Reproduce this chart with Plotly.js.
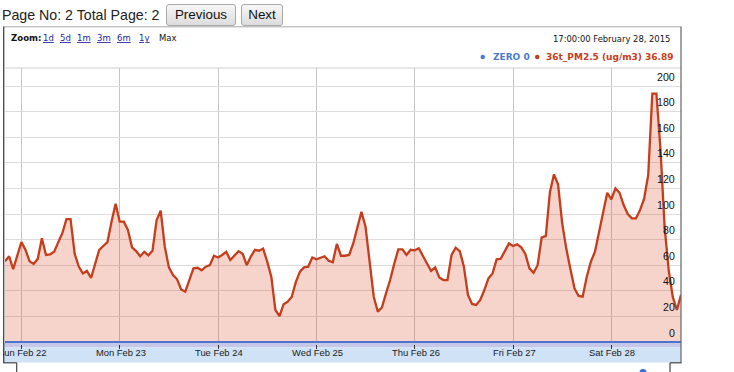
<!DOCTYPE html>
<html><head><meta charset="utf-8">
<script src="https://cdn.plot.ly/plotly-3.0.1.min.js"></script>
<style>
html,body{margin:0;padding:0;width:734px;height:372px;overflow:hidden;background:#fff;font-family:"Liberation Sans",Arial,sans-serif;}
#hdr{position:absolute;left:2px;top:5px;font-size:14.2px;color:#222;line-height:20px;z-index:5;white-space:nowrap}
.btn{position:absolute;top:4px;height:22px;box-sizing:border-box;border:1px solid #a9a9a9;border-radius:3px;background:linear-gradient(#f7f7f7,#dcdcdc);font-family:"Liberation Sans",Arial,sans-serif;font-size:13.4px;color:#111;line-height:20px;text-align:center;z-index:5}
#chart{position:absolute;left:3px;top:0;width:731px;height:372px}
</style></head><body>
<div id="hdr">Page No: 2 Total Page: 2</div>
<div class="btn" style="left:166px;width:70px">Previous</div>
<div class="btn" style="left:241px;width:42px">Next</div>
<div id="chart"></div>
<script>
// ---- data ----
const seriesName = '36t_PM2.5 (ug/m3)';
const zeroName = 'ZERO';
const firstHourUTC = Date.UTC(2015, 1, 21, 20); // Feb 21 2015 20:00, hourly samples
const pm25 = [63,67,57,67,
  78,72,63,61,65,81,68,68.5,70.5,78,
  85,96,96,69,59,53.5,55.5,50,61.5,72,
  75,78,94,108,94,94,87.5,74,71,67,
  70.5,67.7,71.3,95,102.6,74.5,58.3,52.3,49,41,
  39.3,48.4,57.5,58,56,58.8,60,67.4,66,68,
  70.5,64,67.4,71,69,60,66.7,72,71.3,73,
  62.8,51,25,20.3,29.4,31.5,35.4,47,55,58.3,
  58.8,66,64.6,66,67,63.5,62.3,76.6,67.4,67.4,
  68,77,90,101.8,90,64,35.4,23.7,27,38,
  48.4,61,72.4,72.4,68,72,71.6,73.2,67.4,62,
  55.5,58.3,50.5,48.4,48.4,68,73.7,71,59,36.7,
  29.7,29,32.8,40.6,49.7,53.6,64.6,65,71.3,77,
  75,76.3,74,68.8,57.5,54,60,81.8,82.8,117,
  131,123,92.7,73,57,42,36,35.4,51,62.8,
  70.5,86,103,116.6,111.5,120,116.6,107,100,96.6,
  96.6,103,112,130.5,194,194,150,90,56,35,
  25,36.89];
const zeroValues = [0, 0];
const dayTicks = ['2015-02-22','2015-02-23','2015-02-24','2015-02-25','2015-02-26','2015-02-27','2015-02-28'];
const dayLabels = ['Sun Feb 22','Mon Feb 23','Tue Feb 24','Wed Feb 25','Thu Feb 26','Fri Feb 27','Sat Feb 28'];
const yTicks = [0,20,40,60,80,100,120,140,160,180,200];
const zoomLinks = ['1d','5d','1m','3m','6m','1y'];
const lastTimeLabel = '17:00:00 February 28, 2015';
const lastZero = 0;
const lastPM = 36.89;

function fmt(ms){ return new Date(ms).toISOString().slice(0,19).replace('T',' '); }
const times = pm25.map((_, i) => fmt(firstHourUTC + i * 3600000));
const zeroTimes = [times[0], times[times.length - 1]];

// ---- geometry (page px -> paper) ----
const FW = 731, FH = 372, ML = 2, MR = 53, MT = 68, MB = 28, OFFX = 3;
const PW = FW - ML - MR, PH = FH - MT - MB;
const PX = px => (px - OFFX - ML) / PW;
const PY = py => (FH - MB - py) / PH;

const RED = '#c63d1c', BLUE = '#4a74d0', LEGBLUE = '#4a7ccb';

const traces = [
  {x: times, y: pm25, type: 'scatter', mode: 'lines', name: seriesName,
   line: {color: RED, width: 2.3}, fill: 'tozeroy', fillcolor: 'rgba(220,57,18,0.22)', hoverinfo: 'skip'},
  {x: zeroTimes, y: zeroValues, type: 'scatter', mode: 'lines', name: zeroName,
   line: {color: BLUE, width: 2}, hoverinfo: 'skip'}
];

const shapes = [
  {type:'rect', xref:'paper', yref:'paper', x0:PX(4), x1:PX(681), y0:PY(347.2), y1:PY(343), fillcolor:'#c7c7e7', line:{width:0}, layer:'below'},
  {type:'rect', xref:'paper', yref:'paper', x0:PX(4), x1:PX(681), y0:PY(362.6), y1:PY(347.2), fillcolor:'#d0e2f6', line:{width:0}, layer:'below'},
  {type:'line', xref:'paper', yref:'paper', x0:PX(5), x1:PX(681), y0:PY(68), y1:PY(68), line:{color:'#cfcfcf', width:1}},
  {type:'line', xref:'paper', yref:'paper', x0:PX(3), x1:PX(681.5), y0:PY(26.8), y1:PY(26.8), line:{color:'#a8a8a8', width:1}},
  {type:'line', xref:'paper', yref:'paper', x0:PX(3.7), x1:PX(3.7), y0:PY(26.8), y1:PY(362.8), line:{color:'#444', width:1.3}},
  {type:'line', xref:'paper', yref:'paper', x0:PX(681), x1:PX(681), y0:PY(26.8), y1:PY(362.8), line:{color:'#666', width:1.2}},
  {type:'line', xref:'paper', yref:'paper', x0:PX(3), x1:PX(16.7), y0:PY(362.8), y1:PY(362.8), line:{color:'#444', width:1.2}},
  {type:'line', xref:'paper', yref:'paper', x0:PX(16.7), x1:PX(16.7), y0:PY(362.8), y1:PY(373), line:{color:'#444', width:1.2}},
  {type:'line', xref:'paper', yref:'paper', x0:PX(670), x1:PX(681.5), y0:PY(362.8), y1:PY(362.8), line:{color:'#444', width:1.2}},
  {type:'line', xref:'paper', yref:'paper', x0:PX(670), x1:PX(670), y0:PY(362.8), y1:PY(373), line:{color:'#444', width:1.2}},
  {type:'circle', xref:'paper', yref:'paper', x0:PX(639.5), x1:PX(646.5), y0:PY(369), y1:PY(376), fillcolor:'#3d6cd2', line:{width:0}},
  {type:'circle', xref:'paper', yref:'paper', x0:PX(480.5), x1:PX(485), y0:PY(54.8), y1:PY(59.3), fillcolor:LEGBLUE, line:{width:0}},
  {type:'circle', xref:'paper', yref:'paper', x0:PX(535), x1:PX(539.5), y0:PY(54.8), y1:PY(59.3), fillcolor:RED, line:{width:0}}
];

const annotations = [];
dayTicks.forEach((d, i) => annotations.push({x: d, xref:'x', y: PY(352.6), yref:'paper', text: dayLabels[i],
  showarrow:false, xanchor:'center', yanchor:'middle', xshift:1,
  font:{family:'Liberation Sans, Arial, sans-serif', size:9.4, color:'#1a1a1a'}}));
yTicks.forEach(v => annotations.push({x: 1, xref:'paper', y: v, yref:'y', text: String(v),
  showarrow:false, xanchor:'right', yanchor:'middle', xshift:-4, yshift:9.5,
  font:{family:'Liberation Sans, Arial, sans-serif', size:10.6, color:'#111'}}));
const hdrFont = (c, s) => ({family:'DejaVu Sans, Verdana, sans-serif', size:s, color:c});
annotations.push({x:PX(9), xref:'paper', y:PY(37.5), yref:'paper', text:'<b>Zoom:</b>', showarrow:false,
  xanchor:'left', yanchor:'middle', font:hdrFont('#111', 8.6)});
const linkCenters = [48, 65.3, 84, 104, 124, 143.6];
zoomLinks.forEach((z, i) => annotations.push({x:PX(linkCenters[i]), xref:'paper', y:PY(37.5), yref:'paper',
  text:'<u>' + z + '</u>', showarrow:false, xanchor:'center', yanchor:'middle', font:hdrFont('#1f1fa3', 8.5)}));
annotations.push({x:PX(167.5), xref:'paper', y:PY(37.5), yref:'paper', text:'Max', showarrow:false,
  xanchor:'center', yanchor:'middle', font:hdrFont('#111', 8.5)});
annotations.push({x:PX(672), xref:'paper', y:PY(39), yref:'paper', text:lastTimeLabel, showarrow:false,
  xanchor:'right', yanchor:'middle', font:hdrFont('#111', 8.4)});
annotations.push({x:PX(490.5), xref:'paper', y:PY(57), yref:'paper', text:'<b>' + zeroName + ' ' + lastZero + '</b>', showarrow:false,
  xanchor:'left', yanchor:'middle', font:hdrFont(LEGBLUE, 9)});
annotations.push({x:PX(544), xref:'paper', y:PY(57), yref:'paper', text:'<b>' + seriesName + ' ' + lastPM + '</b>', showarrow:false,
  xanchor:'left', yanchor:'middle', font:hdrFont(RED, 9)});

const layout = {
  width: FW, height: FH,
  margin: {l: ML, r: MR, t: MT, b: MB, pad: 0},
  paper_bgcolor: 'rgba(0,0,0,0)', plot_bgcolor: '#fff',
  showlegend: false, hovermode: false,
  xaxis: {type:'date', range:[times[0], times[times.length-1]], tickmode:'array', tickvals: dayTicks,
    showticklabels:false, ticks:'outside', ticklen:4, tickwidth:1, tickcolor:'#333',
    showgrid:true, gridcolor:'#c6c6c6', gridwidth:1, zeroline:false, showline:false, fixedrange:true},
  yaxis: {range:[-(344-342)/1.28, (342-68)/1.28], tickmode:'array', tickvals: yTicks, showticklabels:false,
    ticks:'', showgrid:true, gridcolor:'#dcdcdc', gridwidth:1, zeroline:false, showline:false, fixedrange:true},
  shapes: shapes, annotations: annotations
};
Plotly.newPlot('chart', traces, layout, {displayModeBar:false, staticPlot:true});
</script>
</body></html>
